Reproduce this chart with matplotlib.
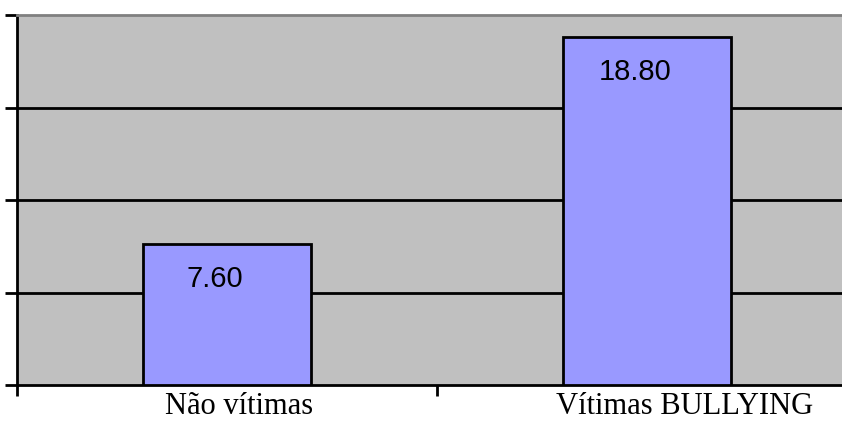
#!/usr/bin/env python3

import matplotlib
matplotlib.use('Agg')
import matplotlib.pyplot as plt
from matplotlib.transforms import ScaledTranslation

categories = ['Não vítimas', 'Vítimas BULLYING']
values = [7.60, 18.80]
yticks = [0, 5, 10, 15, 20]

# horizontal shift (px) of each category label, as in the original
label_shift = [12, 38]

fig = plt.figure(figsize=(8.42, 4.25), dpi=100)
ax = fig.add_axes([17 / 842, 40 / 425, 840 / 842, 370 / 425])
ax.set_facecolor('#C0C0C0')

x = list(range(len(categories)))
bars = ax.bar(x, values, width=0.4, color='#9999FF', edgecolor='black',
              linewidth=2, zorder=3)

ax.set_xlim(-0.5, 1.5)
ax.set_ylim(0, 20)

# horizontal grid lines
for t in yticks[1:-1]:
    ax.axhline(t, color='black', linewidth=2, zorder=1)

ax.set_yticks(yticks)
ax.set_yticklabels([])
ax.tick_params(axis='y', direction='out', length=9, width=2)

# ticks at category boundaries, labels centered on categories
ax.set_xticks([-0.5, 0.5], minor=False)
ax.set_xticklabels([])
ax.tick_params(axis='x', which='major', direction='out', length=8, width=2)
ax.set_xticks(x, minor=True)
ax.set_xticklabels(categories, minor=True, fontfamily='Liberation Serif',
                   fontsize=22)
ax.tick_params(axis='x', which='minor', length=0, pad=5)

for lbl, dx in zip(ax.get_xticklabels(minor=True), label_shift):
    lbl.set_transform(lbl.get_transform() +
                      ScaledTranslation(dx / 100, 0, fig.dpi_scale_trans))

for b, v in zip(bars, values):
    ax.annotate('%.2f' % v, (b.get_x() + b.get_width() / 2, v),
                xytext=(-12, -34.5), textcoords='offset pixels',
                ha='center', va='center', fontsize=21,
                fontfamily='Liberation Sans', zorder=4)

for s in ['left', 'bottom']:
    ax.spines[s].set_linewidth(2)
    ax.spines[s].set_color('black')
ax.spines['top'].set_color('#808080')
ax.spines['top'].set_linewidth(2)
ax.spines['right'].set_visible(False)

plt.savefig('out.png', dpi=100)
